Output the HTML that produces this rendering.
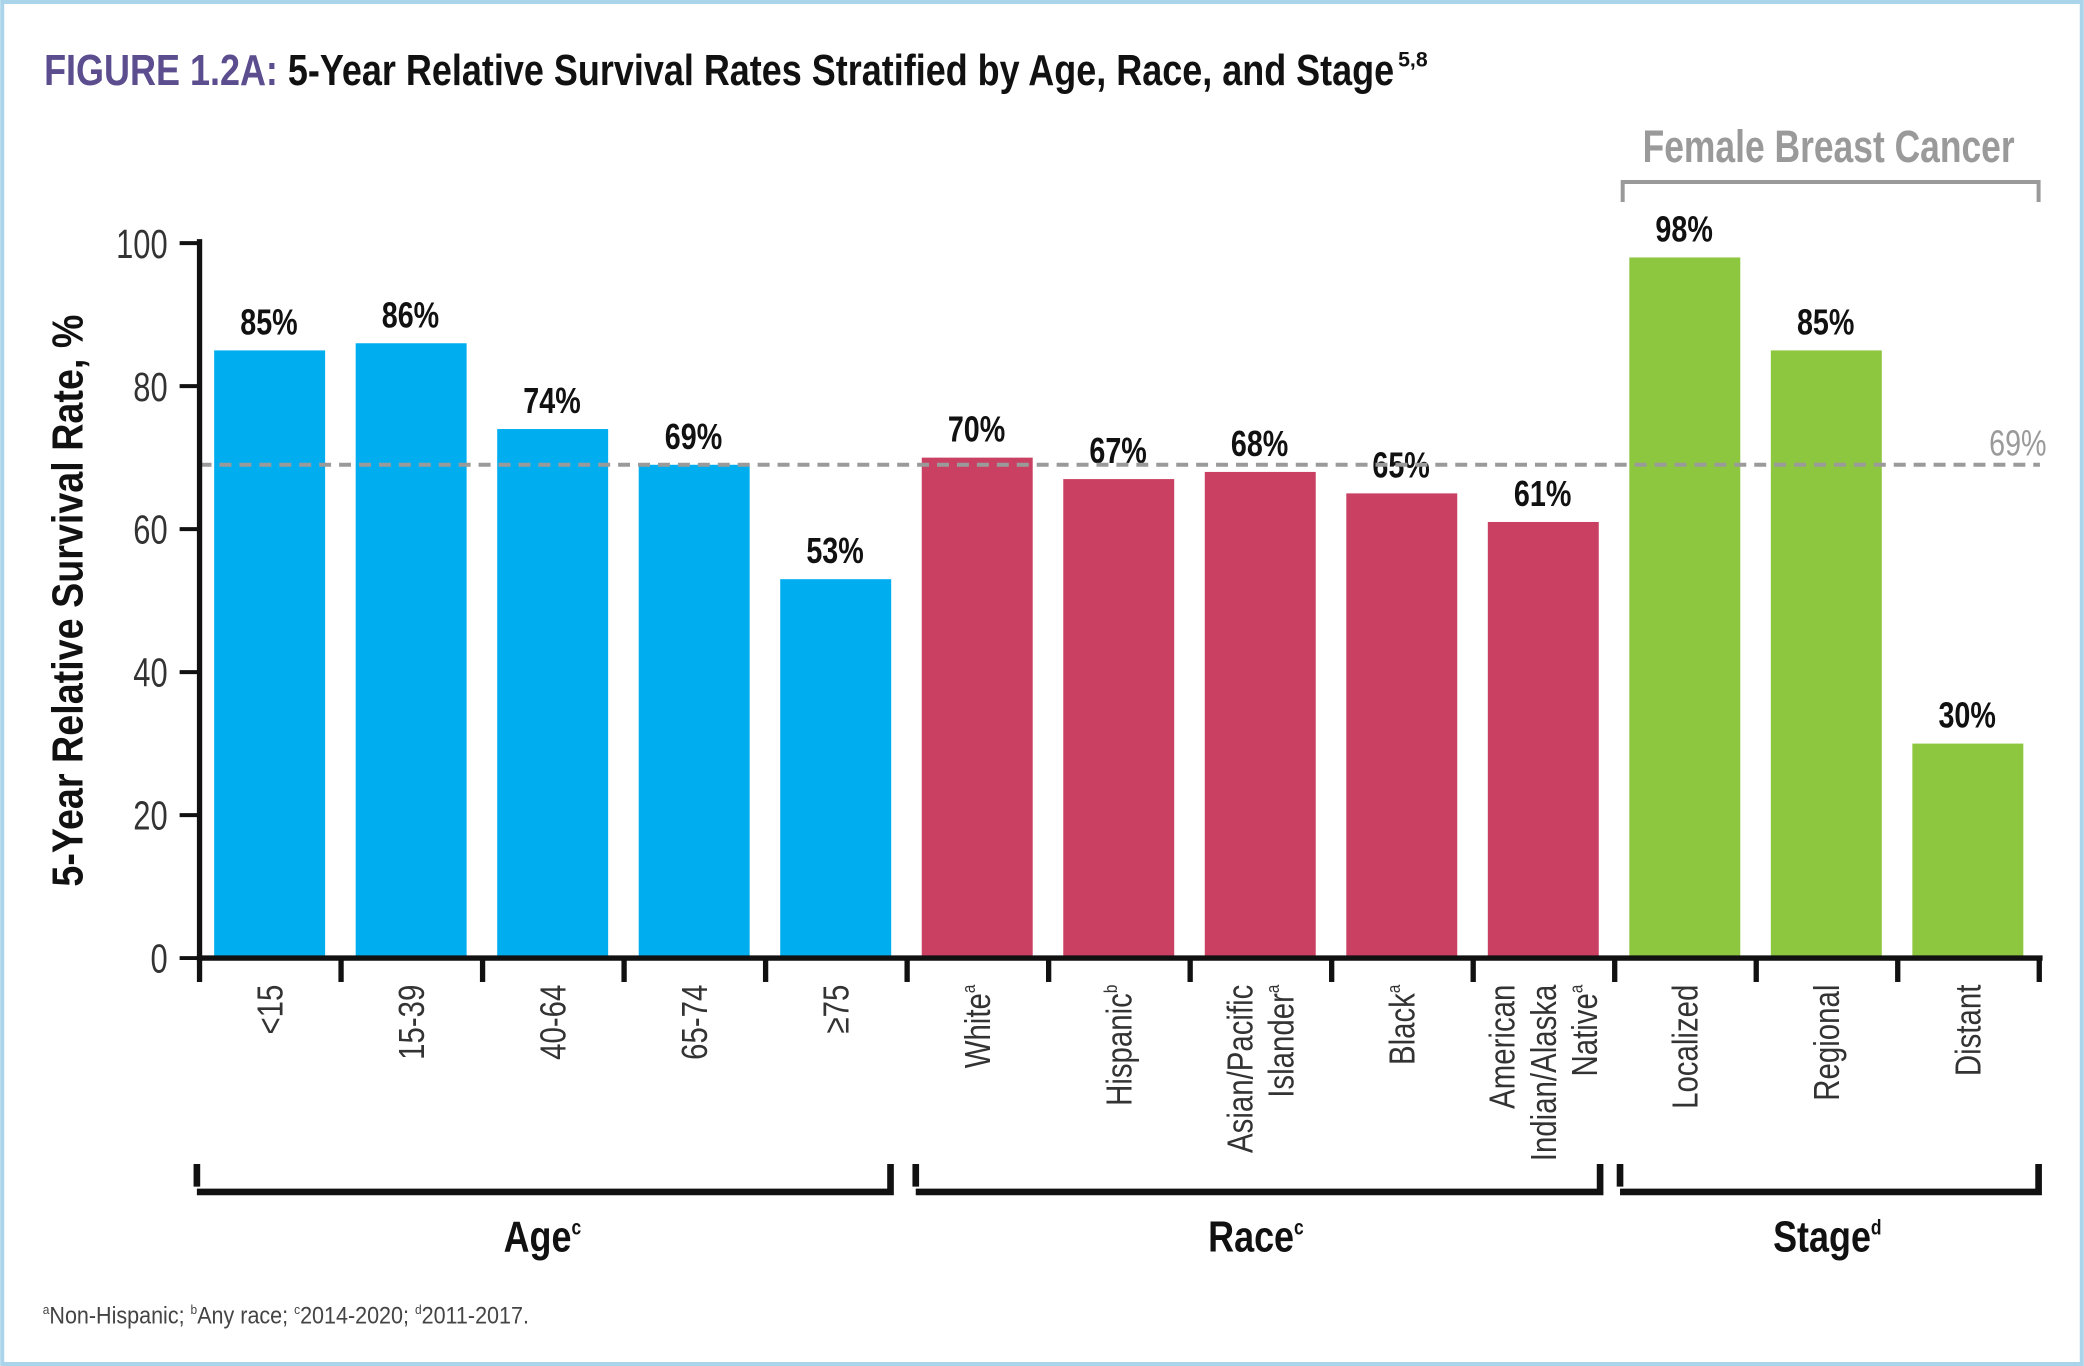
<!DOCTYPE html>
<html><head><meta charset="utf-8">
<style>
html,body{margin:0;padding:0;background:#fff;}
svg{display:block;}
text{font-family:"Liberation Sans Narrow","Liberation Sans",sans-serif;}
</style></head>
<body>
<svg id="chart" width="2084" height="1366" viewBox="0 0 1568 1028" xmlns="http://www.w3.org/2000/svg">
<rect x="1.5" y="1.5" width="1565" height="1025" fill="#fff" stroke="#a9d4ea" stroke-width="3"/>
<text x="33" y="64" font-size="33" font-weight="bold" textLength="1016" lengthAdjust="spacingAndGlyphs"><tspan fill="#5b4d8e">FIGURE 1.2A:</tspan><tspan fill="#111"> 5-Year Relative Survival Rates Stratified by Age, Race, and Stage</tspan></text>
<text x="1052" y="50" font-size="16" font-weight="bold" fill="#111">5,8</text>
<text x="1236" y="122" font-size="34" font-weight="bold" fill="#9a9a9a" textLength="280" lengthAdjust="spacingAndGlyphs">Female Breast Cancer</text>
<path d="M1221 152 V137 H1534 V152" fill="none" stroke="#9a9a9a" stroke-width="3"/>
<text transform="translate(62,452) rotate(-90) scale(0.86,1)" font-size="33" font-weight="bold" fill="#111" text-anchor="middle">5-Year Relative Survival Rate, %</text>
<g id="plot"></g>
<path d="M148 893 V876 M148 897 H670 V876" fill="none" stroke="#111" stroke-width="5"/>
<path d="M689 893 V876 M689 897 H1204 V876" fill="none" stroke="#111" stroke-width="5"/>
<path d="M1219 893 V876 M1219 897 H1534 V876" fill="none" stroke="#111" stroke-width="5"/>
<text transform="translate(408,942) scale(0.82,1)" font-size="33" font-weight="bold" text-anchor="middle" fill="#111">Age<tspan font-size="16" dy="-13">c</tspan></text>
<text transform="translate(945,942) scale(0.82,1)" font-size="33" font-weight="bold" text-anchor="middle" fill="#111">Race<tspan font-size="16" dy="-13">c</tspan></text>
<text transform="translate(1375,942) scale(0.82,1)" font-size="33" font-weight="bold" text-anchor="middle" fill="#111">Stage<tspan font-size="16" dy="-13">d</tspan></text>
<text transform="translate(32,996) scale(0.9,1)" font-size="18" fill="#444"><tspan font-size="10" dy="-7">a</tspan><tspan dy="7">Non-Hispanic; </tspan><tspan font-size="10" dy="-7">b</tspan><tspan dy="7">Any race; </tspan><tspan font-size="10" dy="-7">c</tspan><tspan dy="7">2014-2020; </tspan><tspan font-size="10" dy="-7">d</tspan><tspan dy="7">2011-2017.</tspan></text>
</svg>
<script>
const categories = ["<15","15-39","40-64","65-74","≥75","White","Hispanic","Asian/Pacific|Islander","Black","American|Indian/Alaska|Native","Localized","Regional","Distant"];
const superscripts = ["","","","","","a","b","a","a","a","","",""];
const values = [85,86,74,69,53,70,67,68,65,61,98,85,30];
const groups = ["age","age","age","age","age","race","race","race","race","race","stage","stage","stage"];
const yTicks = [0,20,40,60,80,100];
const referenceValue = [69];
const colors = {age:"#00aeef", race:"#c94062", stage:"#8dc63f"};

const NS="http://www.w3.org/2000/svg";
const g=document.getElementById('plot');
const x0=150, band=106.5, y0=721, yTop=183;
const yScale=v=>y0-(v/100)*(y0-yTop);
const xBand=i=>x0+i*band;
function mk(tag,attrs,txt){const e=document.createElementNS(NS,tag);for(const k in attrs)e.setAttribute(k,attrs[k]);if(txt!==undefined)e.textContent=txt;g.appendChild(e);return e;}

values.forEach((v,i)=>{
  const r=mk('rect',{x:xBand(i)+11,y:yScale(v),width:band-23,height:y0-yScale(v),fill:colors[groups[i]]});
  
  
  const t=mk('text',{transform:`translate(${xBand(i)+band/2-1},${yScale(v)-12}) scale(0.8,1)`,'font-size':27,'font-weight':'bold','text-anchor':'middle',fill:'#111'},v+'%');
  
  
  const lines=categories[i].split('|');
  const cx=xBand(i)+band/2;
  const n=lines.length;
  lines.forEach((ln,j)=>{
    const off=(j-(n-1)/2)*31;
    const lt=mk('text',{transform:`translate(${cx+off+9},741) rotate(-90) scale(0.82,1)`,'font-size':27,'text-anchor':'end',fill:'#333'});
    lt.textContent=ln;
    if(j===n-1&&superscripts[i]){const s=document.createElementNS(NS,'tspan');s.setAttribute('font-size','14');s.setAttribute('dy','-11');s.textContent=superscripts[i];lt.appendChild(s);}
    
    
  });
});
referenceValue.forEach(rv=>{
  const l=mk('line',{x1:x0,x2:1535,y1:yScale(rv),y2:yScale(rv),stroke:'#9a9a9a','stroke-width':3,'stroke-dasharray':'9,6'});
  
  
  const t=mk('text',{transform:`translate(1540,${yScale(rv)-7}) scale(0.8,1)`,'font-size':27,'text-anchor':'end',fill:'#9a9a9a'},rv+'%');
  
  
});
const ya=mk('line',{x1:x0,x2:x0,y1:yTop-3,y2:y0+2,stroke:'#111','stroke-width':4});


yTicks.forEach(v=>{
  const tk=mk('line',{x1:x0-15,x2:x0,y1:yScale(v),y2:yScale(v),stroke:'#111','stroke-width':3});
  
  
  const t=mk('text',{transform:`translate(${x0-24},${yScale(v)+11}) scale(0.75,1)`,'font-size':31,'text-anchor':'end',fill:'#333'},String(v));
  
  
});
const xa=mk('line',{x1:x0-2,x2:1537,y1:y0,y2:y0,stroke:'#111','stroke-width':4});


for(let i=0;i<=values.length;i++){
  const tk=mk('line',{x1:xBand(i),x2:xBand(i),y1:y0,y2:y0+18,stroke:'#111','stroke-width':4});
  
  
}
</script>
</body></html>
